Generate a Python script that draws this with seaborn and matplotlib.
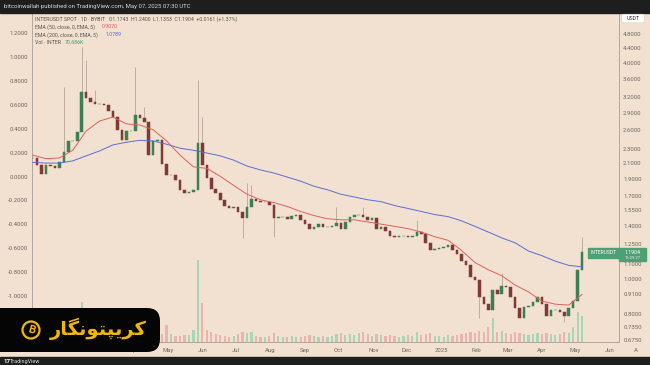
import numpy as np
import pandas as pd
import matplotlib
matplotlib.use("Agg")
import matplotlib.pyplot as plt
from matplotlib.ticker import NullLocator
from matplotlib.patches import Rectangle, FancyBboxPatch, Circle
import seaborn as sns

# ---------------- data ----------------
# 4-day closes, starting 2024-01-01
close = [2.17, 2.07, 1.96, 2.07, 2.06, 2.03, 2.11, 2.25, 2.42, 2.42,
         2.56, 3.31, 3.19, 3.10, 3.07, 3.07, 3.05, 2.93, 2.82, 2.60,
         2.43, 2.58, 2.58, 2.86, 2.80, 2.73, 2.21, 2.42, 2.43, 2.09,
         1.94, 1.94, 1.88, 1.77, 1.73, 1.74, 1.77, 2.39, 2.07, 1.91,
         1.78, 1.73, 1.66, 1.60, 1.57, 1.58, 1.53, 1.48, 1.58, 1.67,
         1.65, 1.64, 1.64, 1.61, 1.48, 1.49, 1.49, 1.47, 1.50, 1.51,
         1.46, 1.42, 1.38, 1.39, 1.42, 1.39, 1.39, 1.40, 1.43, 1.38,
         1.44, 1.49, 1.51, 1.51, 1.49, 1.46, 1.48, 1.38, 1.39, 1.36,
         1.32, 1.31, 1.32, 1.32, 1.31, 1.32, 1.35, 1.33, 1.26, 1.20,
         1.21, 1.22, 1.23, 1.24, 1.20, 1.17, 1.12, 1.09, 1.01, 0.99,
         0.89, 0.85, 0.82, 0.93, 0.91, 0.955, 0.95, 0.89, 0.83, 0.78,
         0.835, 0.84, 0.86, 0.89, 0.85, 0.79, 0.82, 0.82, 0.81, 0.79,
         0.83, 0.87, 1.06, 1.1904]
volume = [1.0, 0.8, 1.2, 0.7, 0.6, 0.8, 0.9, 1.6, 1.4, 1.0,
          1.8, 4.0, 2.5, 1.5, 1.2, 0.9, 0.8, 0.9, 1.0, 1.3,
          1.5, 1.0, 0.8, 2.6, 1.2, 1.4, 1.8, 1.1, 0.9, 0.8,
          1.7, 0.8, 0.6, 0.6, 0.7, 0.7, 1.2, 8.2, 3.9, 1.2,
          1.0, 0.8, 0.7, 0.6, 0.5, 0.6, 0.8, 1.0, 0.9, 1.0,
          0.6, 0.5, 0.5, 0.6, 0.9, 0.6, 0.5, 0.5, 0.6, 0.5,
          0.5, 0.6, 0.7, 0.6, 0.5, 0.6, 0.5, 0.6, 0.8, 0.9,
          0.7, 0.8, 0.7, 0.9, 1.0, 0.8, 0.6, 0.8, 0.7, 0.6,
          0.7, 0.6, 0.5, 0.6, 0.7, 0.6, 1.0, 0.7, 0.8, 0.9,
          0.6, 0.6, 0.5, 0.7, 0.6, 0.7, 0.8, 0.9, 1.0, 0.9,
          1.1, 1.0, 1.5, 2.4, 1.0, 1.1, 0.9, 0.8, 1.0, 0.9,
          0.8, 0.7, 0.8, 0.9, 0.8, 0.9, 0.8, 0.7, 0.8, 1.0,
          0.9, 1.5, 3.0, 2.6]
# 12-day EMA readings, starting 2024-01-01
ema50 = [2.21, 2.16, 2.17, 2.28, 2.58, 2.75, 2.82, 2.70, 2.68, 2.60,
         2.42, 2.21, 2.05, 2.03, 1.93, 1.82, 1.72, 1.66, 1.63, 1.59,
         1.54, 1.50, 1.47, 1.46, 1.46, 1.44, 1.42, 1.40, 1.38, 1.35,
         1.31, 1.28, 1.20, 1.11, 1.06, 1.02, 0.961, 0.919, 0.867, 0.850,
         0.845, 0.905]
ema200 = [2.11, 2.10, 2.10, 2.13, 2.20, 2.27, 2.36, 2.40, 2.43, 2.42,
          2.37, 2.31, 2.28, 2.24, 2.20, 2.14, 2.06, 2.01, 1.97, 1.92,
          1.87, 1.81, 1.77, 1.72, 1.69, 1.66, 1.64, 1.60, 1.57, 1.54,
          1.51, 1.49, 1.45, 1.40, 1.35, 1.30, 1.26, 1.195, 1.16, 1.12,
          1.09, 1.08]
wick_dates = ["2024-01-29", "2024-02-14", "2024-02-18", "2024-02-26", "2024-04-02",
              "2024-04-10", "2024-05-28", "2024-06-01", "2024-07-11", "2024-07-15",
              "2024-09-29", "2024-10-23", "2024-12-10", "2025-02-24", "2025-05-07"]
wick_highs = [3.42, 4.41, 4.06, 3.35, 3.89, 3.01, 3.57, 2.82, 1.85, 1.82,
              1.58, 1.58, 1.46, 1.04, 1.31]
dip_dates = ["2024-07-07", "2024-08-04", "2025-02-04", "2025-04-21"]
dip_lows = [1.30, 1.31, 0.78, 0.76]

month_ticks = ["2024-02-01", "2024-03-01", "2024-04-01", "2024-05-01", "2024-06-01",
               "2024-07-01", "2024-08-01", "2024-09-01", "2024-10-01", "2024-11-01",
               "2024-12-01", "2025-01-01", "2025-02-01", "2025-03-01", "2025-04-01",
               "2025-05-01", "2025-06-01"]
month_labels = ["Feb", "Mar", "Apr", "May", "Jun", "Jul", "Aug", "Sep", "Oct", "Nov",
                "Dec", "2025", "Feb", "Mar", "Apr", "May", "Jun"]
price_ticks = [4.8, 4.4, 4.0, 3.6, 3.2, 2.9, 2.6, 2.3, 2.1, 1.9, 1.7, 1.55, 1.4,
               1.25, 1.1, 1.0, 0.91, 0.8, 0.735, 0.675]
left_ticks = [1.2, 1.0, 0.8, 0.6, 0.4, 0.2, 0.0, -0.2, -0.4, -0.6, -0.8, -1.0]

# ---------------- style ----------------
BG = "#f2e1d0"
UP, DOWN = "#3d7f55", "#7e3a33"
VUP, VDOWN = "#8fd0b0", "#eaa6a0"
RED_EMA, BLUE_EMA = "#e0605a", "#5c6bd6"
AXC = "#a99d92"
TXT = "#6e6660"

sns.set_style("ticks")
plt.rcParams["font.family"] = ["Roboto", "DejaVu Sans"]

fig = plt.figure(figsize=(6.5, 3.65), dpi=100, facecolor=BG)
ax = fig.add_axes([32 / 650, 23 / 365, 587 / 650, 329 / 365])
ax_vol = ax.twinx()
ax_left = ax.twinx()
ax.set_zorder(ax_vol.get_zorder() + 2)
ax_left.set_zorder(ax_vol.get_zorder() + 1)
ax.patch.set_visible(False)
ax_left.patch.set_visible(False)
ax_vol.patch.set_facecolor(BG)

dates = pd.date_range("2024-01-01", periods=len(close), freq="4D")
ema_dates = pd.date_range("2024-01-01", periods=len(ema50), freq="12D")
c = np.array(close)
o = np.concatenate([[c[0]], c[:-1]])
up = c >= o
lo = np.minimum(o, c)
hi = np.maximum(o, c)

# volume
ax_vol.bar(dates, volume, width=2.0, color=np.where(up, VUP, VDOWN), linewidth=0, alpha=0.75)
ax_vol.set_ylim(0, 32.9)
ax_vol.set_yticks([])
for s in ax_vol.spines.values():
    s.set_visible(False)

# wicks
wd = pd.to_datetime(wick_dates)
idx = [dates.get_loc(d) for d in wd]
ax.vlines(wd, hi[idx], wick_highs, color="#a89a8c", lw=0.5, zorder=2)
dd = pd.to_datetime(dip_dates)
idx2 = [dates.get_loc(d) for d in dd]
ax.vlines(dd, dip_lows, lo[idx2], color="#a89a8c", lw=0.5, zorder=2)

# candle bodies
ax.bar(dates, hi - lo, bottom=lo, width=2.3, color=np.where(up, UP, DOWN),
       edgecolor=np.where(up, UP, DOWN), linewidth=0.35, zorder=3)

# EMAs
df_ema = pd.DataFrame({"date": ema_dates, "ema50": ema50, "ema200": ema200})
sns.lineplot(data=df_ema, x="date", y="ema200", ax=ax, color=BLUE_EMA, lw=0.7, zorder=4)
sns.lineplot(data=df_ema, x="date", y="ema50", ax=ax, color=RED_EMA, lw=0.7, zorder=4)

ax.set_yscale("log")
ax.set_ylim(0.667, 5.496)
ax.set_xlim(pd.Timestamp("2023-12-31 12:00"), pd.Timestamp("2025-06-09"))
ax.set_xlabel("")
ax.set_ylabel("")
ax.yaxis.tick_right()
ax.yaxis.set_minor_locator(NullLocator())
ax.set_yticks(price_ticks)
ax.set_yticklabels([f"{v:.4f}" for v in price_ticks])
ax.set_xticks(pd.to_datetime(month_ticks))
ax.set_xticklabels(month_labels)
ax.xaxis.set_minor_locator(NullLocator())
ax.tick_params(axis="y", which="both", length=0, pad=3, labelsize=4.3, labelcolor=TXT)
ax.tick_params(axis="x", which="both", length=0, pad=4, labelsize=4.3, labelcolor=TXT)
ax.spines["top"].set_visible(False)
for s in ("left", "right", "bottom"):
    ax.spines[s].set_color(AXC)
    ax.spines[s].set_linewidth(0.6)

# left scale
ax_left.yaxis.tick_left()
ax_left.set_ylim(-1.383, 1.367)
ax_left.set_yticks(left_ticks)
ax_left.set_yticklabels([f"{v:.4f}" for v in left_ticks])
ax_left.tick_params(axis="y", length=0, pad=3, labelsize=4.3, labelcolor=TXT)
for s in ax_left.spines.values():
    s.set_visible(False)

# ---------------- overlay decorations (pixel coordinates) ----------------
ov = fig.add_axes([0, 0, 1, 1], zorder=30)
ov.set_xlim(0, 650)
ov.set_ylim(365, 0)
ov.axis("off")
ov.patch.set_alpha(0)

ov.add_patch(Rectangle((0, 0), 650, 12.5, color="#1e1e1e"))
ov.text(4, 6.5, "bitcoinwallah published on TradingView.com, May 07, 2025 07:30 UTC",
        fontsize=4.3, color="#d9d9d9", va="center", ha="left")
ov.add_patch(Rectangle((0, 357), 650, 8, color="#1e1e1e"))
ov.text(3, 361.3, "17", fontsize=4.3, color="white", weight="bold", va="center")
ov.text(10, 361.3, "TradingView", fontsize=4.0, color="#d9d9d9", va="center")

# legend lines
lc = "#5a534e"
ov.text(35, 19, "INTERUSDT SPOT · 1D · BYBIT   O1.1743  H1.2400  L1.1353  C1.1904  +0.0161 (+1.37%)",
        fontsize=3.8, color=lc, va="center")
ov.text(35, 27, "EMA (50, close, 0, EMA, 5)", fontsize=3.8, color=lc, va="center")
ov.text(102, 27, "0.9070", fontsize=3.8, color=RED_EMA, va="center")
ov.text(35, 35, "EMA (200, close, 0, EMA, 5)", fontsize=3.8, color=lc, va="center")
ov.text(106, 35, "1.0789", fontsize=3.8, color=BLUE_EMA, va="center")
ov.text(35, 43, "Vol · INTER", fontsize=3.8, color=lc, va="center")
ov.text(65, 43, "70.686K", fontsize=3.8, color="#3fa46a", va="center")

# USDT box
ov.add_patch(FancyBboxPatch((622, 14.5), 22, 8, boxstyle="round,pad=0.3,rounding_size=1.5",
                            fc="white", ec="#d6d0ca", lw=0.4))
ov.text(633, 18.7, "USDT", fontsize=3.8, color="#333333", ha="center", va="center")

# price tag
ov.add_patch(Rectangle((588, 248), 31, 9.5, color="#4f9f75"))
ov.add_patch(Rectangle((619, 248), 27, 13, color="#4f9f75"))
ov.text(603.5, 252.8, "INTERUSDT", fontsize=3.6, color="white", ha="center", va="center")
ov.text(632.5, 252.3, "1.1904", fontsize=3.8, color="white", ha="center", va="center")
ov.text(632.5, 258.0, "16:29:27", fontsize=3.0, color="#e6f2ea", ha="center", va="center")

ov.text(636, 350, "A", fontsize=4.3, color=TXT, ha="center", va="center")

# logo overlay
ov.add_patch(FancyBboxPatch((-20, 308), 180, 44, boxstyle="round,pad=0,rounding_size=13",
                            fc="#050505", ec="none"))
ov.add_patch(Circle((31, 330), 8.5, fc="none", ec="#f2b705", lw=1.6))
ov.text(31, 330.5, "B", fontsize=8, color="#f2b705", weight="bold", ha="center", va="center",
        rotation=-15)
logo_txt = "\uFEAD\uFE8E\uFB95\uFEE7\uFEEE\uFE98\uFB59\uFBFE\uFEAE\uFB90"
ov.text(98, 329, logo_txt, fontsize=14, color="#f2b705", weight="bold",
        ha="center", va="center", family=["DejaVu Sans"])

fig.savefig("out.png", dpi=100, facecolor=BG)
